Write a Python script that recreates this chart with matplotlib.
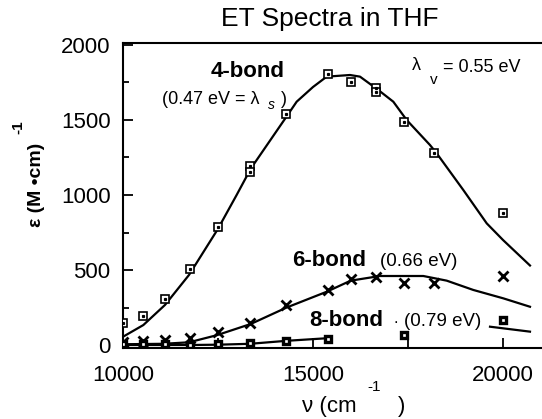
import matplotlib
matplotlib.use('Agg')
import matplotlib.pyplot as plt
import numpy as np

plt.rcParams['font.family'] = ['Liberation Sans', 'DejaVu Sans']
plt.rcParams['mathtext.fontset'] = 'custom'
plt.rcParams['mathtext.rm'] = 'Liberation Sans'

# measured points (wavenumber in cm-1, epsilon in M-1 cm-1)
nu_4bond = [10000, 10526, 11111, 11765, 12500, 13333, 13333, 14286, 15385,
            16000, 16667, 16667, 17391, 18182, 20000]
eps_4bond = [145, 193, 305, 507, 785, 1193, 1155, 1540, 1805,
             1755, 1711, 1689, 1489, 1278, 882]

nu_6bond = [10000, 10526, 11111, 11765, 12500, 13333, 14286, 15385,
            16000, 16667, 17391, 18182, 20000]
eps_6bond = [20, 30, 35, 50, 90, 145, 270, 370, 438, 455, 415, 415, 460]

nu_8bond = [10000, 10526, 11111, 11765, 12500, 13333, 14286, 15385, 17391, 20000]
eps_8bond = [5, 5, 5, 3, 5, 12, 25, 38, 65, 167]

# fitted curves
fit_nu_4 = [10000, 10535, 11105, 11737, 12491, 12990, 13368, 14350, 14570,
            15000, 15360, 15974, 16237, 16718, 17113, 17465, 18079, 18254,
            18956, 19571, 20000, 20710]
fit_eps_4 = [55, 133, 267, 467, 771, 1000, 1178, 1540, 1622,
             1720, 1789, 1800, 1789, 1700, 1622, 1500, 1333, 1278,
             1033, 811, 700, 530]

fit_nu_6 = [10000, 11061, 11737, 12465, 13360, 14307, 15360, 15992, 16763,
            17903, 18518, 19218, 20008, 20710]
fit_eps_6 = [5, 8, 18, 65, 140, 250, 355, 429, 460, 460, 429, 367, 311, 255]

fit_nu_8 = [10000, 11765, 12500, 13342, 14307, 15360, np.nan, 19658, 20710]
fit_eps_8 = [0, 0, 2, 8, 28, 45, np.nan, 122, 89]

W, H = 542, 419
fig = plt.figure(figsize=(W / 100, H / 100), dpi=100)
ax = fig.add_axes([123 / W, (H - 348) / H, 1 - 123 / W, (348 - 42.75) / H])

lw = 1.6
ax.plot(fit_nu_4, fit_eps_4, '-', color='black', lw=lw)
ax.plot(fit_nu_6, fit_eps_6, '-', color='black', lw=lw)
ax.plot(fit_nu_8, fit_eps_8, '-', color='black', lw=lw)

ax.plot(nu_4bond, eps_4bond, 's', ms=6, mfc='white', mec='black', mew=1.2, zorder=3)
ax.plot(nu_4bond, eps_4bond, 's', ms=1.3, mfc='black', mec='black', zorder=4)
ax.plot(nu_6bond, eps_6bond, 'x', ms=7, mec='black', mew=2.0, zorder=3)
ax.plot(nu_8bond, eps_8bond, 's', ms=5, mfc='white', mec='black', mew=2.4, zorder=3)

ax.set_xlim(10000, 21026)
ax.set_ylim(-20, 2015)
ax.set_xticks([10000, 15000, 20000])
ax.set_xticks([12500, 17500], minor=True)
ax.set_yticks([0, 500, 1000, 1500, 2000])
ax.set_yticks([250, 750, 1250, 1750], minor=True)
ax.tick_params(axis='both', which='both', direction='in', width=1.3, labelsize=16)
ax.tick_params(axis='y', which='major', length=7, pad=9)
ax.tick_params(axis='y', which='minor', length=4)
ax.tick_params(axis='x', which='both', length=7, pad=12)
ax.tick_params(top=False, right=False)
ax.spines['right'].set_visible(False)
for s in ['left', 'bottom', 'top']:
    ax.spines[s].set_linewidth(1.5)


def dx(px):
    return 10000 + (px - 123) / 0.038


def dy(py):
    return (345 - py) / 0.15


# annotations
ax.text(dx(247.7), dy(71.7), '4-bond', fontsize=16, fontweight='bold', ha='center', va='center')
ax.text(dx(161.7), dy(100), '(0.47 eV = λ', fontsize=13, ha='left', va='center')
ax.text(dx(271.7), dy(105), 's', fontsize=10, style='italic', ha='center', va='center')
ax.text(dx(287), dy(100), ')', fontsize=13, ha='right', va='center')

ax.text(dx(411.7), dy(66), 'λ', fontsize=13, ha='left', va='center')
ax.text(dx(433.3), dy(80), 'v', fontsize=11, ha='center', va='center')
ax.text(dx(443.3), dy(68), '= 0.55 eV', fontsize=13, ha='left', va='center')

ax.text(dx(328.9), dy(260), '6-bond', fontsize=16, fontweight='bold', ha='center', va='center')
ax.text(dx(380), dy(261.7), '(0.66 eV)', fontsize=13.5, ha='left', va='center')

ax.text(dx(346), dy(320), '8-bond', fontsize=16, fontweight='bold', ha='center', va='center')
ax.text(dx(395.7), dy(326), '.', fontsize=12, ha='center', va='bottom')
ax.text(dx(404), dy(321.7), '(0.79 eV)', fontsize=13.5, ha='left', va='center')

# title and axis labels
fig.text(330 / W, 1 - 19 / H, 'ET Spectra in THF', fontsize=19, ha='center', va='center')
fig.text(36.7 / W, 1 - 185 / H, 'ε (M •cm)', fontsize=14, fontweight='bold',
         rotation=90, ha='center', va='center')
fig.text(18.5 / W, 1 - 127 / H, '-1', fontsize=11, fontweight='bold',
         rotation=90, ha='center', va='center')
fig.text(357 / W, 1 - 406.7 / H, 'ν (cm', fontsize=16, ha='right', va='center')
fig.text(374 / W, 1 - 386.7 / H, '-1', fontsize=11, ha='center', va='center')
fig.text(401.7 / W, 1 - 406.7 / H, ')', fontsize=16, ha='center', va='center')

fig.savefig('out.png', dpi=100)
